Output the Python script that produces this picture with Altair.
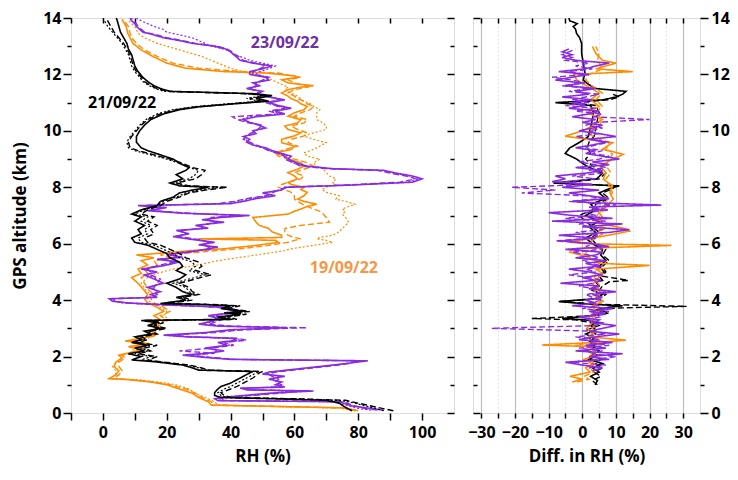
import altair as alt
import pandas as pd

# ---------------- left panel: RH profiles (km, %) ----------------
B_ALT = [
    0.08, 0.2, 0.35, 0.45, 0.5, 0.55, 0.62, 0.72, 0.85, 0.94,
    1.06, 1.24, 1.42, 1.47, 1.52, 1.6, 1.7, 1.82, 1.88, 2.0,
    2.1, 2.2, 2.3, 2.4, 2.5, 2.6, 2.7, 2.8, 2.9, 3.0,
    3.1, 3.2, 3.28, 3.32, 3.4, 3.5, 3.55, 3.6, 3.7, 3.8,
    3.85, 3.88, 4.0, 4.1, 4.2, 4.3, 4.45, 4.6, 4.75, 4.9,
    5.05, 5.2, 5.35, 5.5, 5.65, 5.8, 5.95, 6.05, 6.2, 6.35,
    6.5, 6.65, 6.8, 6.95, 7.05, 7.2, 7.35, 7.5, 7.65, 7.8,
    7.9, 8.0, 8.05, 8.15, 8.3, 8.45, 8.6, 8.7, 8.85, 9.0,
    9.15, 9.3, 9.4, 9.6, 9.8, 10.0, 10.2, 10.4, 10.6, 10.75,
    10.85, 10.95, 11.05, 11.15, 11.25, 11.32, 11.4, 11.5, 11.6, 11.75,
    11.9, 12.1, 12.3, 12.5, 12.7, 12.9, 13.1, 13.3, 13.5, 13.7,
    13.9, 14.0,
]
B_SOLID = [
    78, 76, 74, 70, 55, 37, 35, 35, 36, 37,
    40, 43, 46, 47, 30, 28, 25, 16, 9, 12,
    8, 13, 10, 14, 9, 12, 10, 15, 13, 18,
    14, 17, 12, 40, 36, 43, 38, 44, 37, 40,
    30, 18, 26, 23, 28, 25, 23, 20, 24, 26,
    23, 25, 24, 21, 20, 17, 14, 10, 9, 12,
    11, 13, 10, 12, 9, 12, 17, 18, 22, 24,
    28, 33, 24, 21, 25, 23, 26, 27, 24, 22,
    18, 14, 12, 10.5, 10.5, 11.5, 13, 15, 19, 24,
    30, 40, 52, 48, 53, 47, 21, 18, 16, 14,
    12.5, 11, 10, 9.5, 9, 8, 7.5, 6.5, 5.5, 5,
    4.5, 4.2,
]
B_DASH = [
    91, 86, 80, 76, 62, 40, 38, 37, 40, 42,
    44, 47, 49, 50, 33, 31, 27, 18, 14, 17,
    11, 15, 13, 17, 11, 14, 12, 17, 15, 20,
    16, 19, 14, 42, 39, 45, 41, 46, 39, 43,
    33, 20, 28, 25, 30, 28, 27, 24, 29, 34,
    29, 31, 30, 26, 24, 21, 18, 14, 13, 16,
    15, 17, 14, 16, 12, 14, 18, 20, 24, 27,
    32, 39, 27, 23, 29, 31, 32, 28, 25, 21,
    16, 11, 8.5, 8, 9, 10.5, 12, 14, 18, 23,
    29, 40, 50, 46, 52, 45, 20, 17, 15, 13,
    12, 10.5, 9.5, 9, 8.5, 7.5, 6.5, 5, 3.5, 2.5,
    1.5, 1,
]
B_DOT = [
    88, 84, 79, 74, 60, 39, 37, 36, 38, 40,
    42, 45, 48, 49, 32, 30, 26, 17, 12, 15,
    10, 14, 12, 15, 10, 13, 11, 16, 14, 19,
    15, 18, 13, 41, 38, 44, 40, 45, 38, 42,
    32, 19, 27, 24, 29, 27, 26, 22, 27, 32,
    27, 29, 28, 24, 22, 19, 16, 12, 11, 14,
    13, 15, 12, 14, 10, 13, 17, 19, 23, 26,
    30, 37, 26, 22, 27, 29, 30, 27, 24, 20,
    15, 10, 8, 7.5, 8.5, 10, 11.5, 13.5, 17, 22,
    28, 38, 49, 45, 51, 44, 19, 16.5, 14.5, 12.5,
    11.5, 10, 9, 8.5, 8, 7, 6, 4.5, 3, 1.5,
    0.5, 0,
]

O_ALT = [
    0.08, 0.18, 0.28, 0.4, 0.55, 0.7, 0.85, 1.0, 1.1, 1.18,
    1.22, 1.35, 1.5, 1.65, 1.8, 1.95, 2.05, 2.15, 2.25, 2.35,
    2.45, 2.55, 2.65, 2.75, 2.85, 3.0, 3.15, 3.3, 3.45, 3.6,
    3.75, 3.9, 4.05, 4.2, 4.4, 4.6, 4.8, 4.95, 5.1, 5.25,
    5.4, 5.5, 5.6, 5.7, 5.76, 5.82, 5.94, 6.05, 6.12, 6.17,
    6.22, 6.3, 6.42, 6.54, 6.65, 6.76, 6.93, 7.05, 7.15, 7.23,
    7.32, 7.4, 7.5, 7.58, 7.7, 7.82, 7.92, 8.0, 8.1, 8.17,
    8.3, 8.4, 8.52, 8.64, 8.75, 8.87, 9.0, 9.1, 9.22, 9.34,
    9.46, 9.58, 9.7, 9.82, 9.93, 10.05, 10.17, 10.28, 10.4, 10.52,
    10.64, 10.75, 10.87, 10.96, 11.05, 11.14, 11.23, 11.34, 11.46, 11.55,
    11.6, 11.7, 11.81, 11.9, 11.95, 12.05, 12.1, 12.22, 12.4, 12.64,
    12.87, 13.1, 13.3, 13.46, 13.7, 13.85, 13.95,
]
O_SOLID = [
    80, 76, 34, 33, 30, 28, 24, 20, 15, 8,
    2, 4, 5, 3.5, 4, 6, 5, 9, 12, 8,
    14, 7, 12, 16, 14, 17, 15, 18, 16, 19,
    17, 14, 13, 14, 12.5, 11, 9, 12, 11, 14,
    12, 16, 10.5, 22, 28, 38, 48, 55, 54, 30,
    56, 56, 53, 52, 49, 48, 47, 58, 60, 62,
    64, 67, 63, 61, 63, 64, 62, 63, 59, 58,
    61, 60, 58, 61, 63, 62, 58, 57, 54, 59,
    60, 56, 56, 60, 62, 58, 57, 61, 62, 58,
    60, 63, 64, 62, 61, 59, 58, 56, 58, 62,
    66, 58, 56, 61, 60, 51, 38, 26, 20, 15.6,
    12, 9.4, 8.5, 7.8, 7.3, 6.5, 6,
]
O_DASH = [
    79, 75, 35, 34, 31, 29, 26, 21, 16, 9,
    3, 5, 6, 5, 5, 7, 6, 11, 13, 10,
    15, 9, 13, 17, 16, 19, 17, 20, 18, 21,
    19, 16, 15, 16, 14, 13, 12, 14, 13, 17,
    16, 22, 18, 30, 36, 43, 52, 58, 60, 62,
    60, 58, 57, 57, 62, 71, 70, 69, 68, 66,
    64, 62.5, 61, 60, 60, 59, 57, 55, 56, 58,
    62, 63, 60, 63, 66, 64, 60, 55, 54, 57,
    61, 58, 59, 63, 64, 61, 59, 63, 64, 60,
    62, 65, 66, 64, 63, 61, 60, 58, 60, 64,
    63, 60, 58, 62, 59, 55, 44, 30, 22, 17,
    13, 10.5, 9, 8.5, 8, 7, 6.5,
]
O_DOT = [
    78, 74, 36, 35, 32, 29, 27, 23, 17, 11,
    2, 4, 4, 3, 4.5, 6, 5, 9, 10, 8,
    12, 10, 14, 16, 15, 18, 17, 21, 19, 20,
    18, 15, 14, 15, 13, 12, 14, 17, 22, 30,
    36, 42, 48, 54, 57, 59, 66, 72, 70, 67,
    68, 72, 74, 75, 76, 77, 76, 75, 76, 75,
    77, 79, 76, 73, 74, 70, 68.6, 70, 73, 72,
    73, 71, 70, 69, 67, 66, 68, 64, 63, 66,
    68, 70, 66, 63, 66, 70, 70, 69, 67, 67,
    67, 68, 66, 65, 63, 62, 61, 59, 57, 58,
    57, 55, 53, 51, 48, 46, 44, 40, 36, 31,
    24, 17, 13, 11, 10, 8.5, 8,
]

P_ALT = [
    0.1, 0.16, 0.25, 0.4, 0.44, 0.5, 0.55, 0.6, 0.7, 0.78,
    0.82, 0.88, 0.92, 1.0, 1.1, 1.2, 1.3, 1.38, 1.45, 1.55,
    1.65, 1.75, 1.85, 1.9, 1.97, 2.05, 2.12, 2.2, 2.3, 2.4,
    2.5, 2.58, 2.65, 2.7, 2.76, 2.85, 2.95, 3.02, 3.08, 3.15,
    3.25, 3.35, 3.45, 3.55, 3.65, 3.75, 3.83, 3.9, 3.96, 4.05,
    4.1, 4.2, 4.3, 4.45, 4.6, 4.75, 4.89, 5.0, 5.1, 5.22,
    5.35, 5.45, 5.52, 5.62, 5.7, 5.8, 5.88, 5.96, 6.05, 6.15,
    6.25, 6.35, 6.47, 6.55, 6.65, 6.76, 6.85, 6.93, 7.0, 7.08,
    7.17, 7.28, 7.35, 7.42, 7.5, 7.6, 7.7, 7.8, 7.9, 8.0,
    8.08, 8.18, 8.3, 8.4, 8.5, 8.6, 8.66, 8.75, 8.85, 9.0,
    9.1, 9.2, 9.3, 9.4, 9.5, 9.6, 9.7, 9.8, 9.9, 10.0,
    10.1, 10.2, 10.3, 10.4, 10.5, 10.6, 10.7, 10.8, 10.9, 11.0,
    11.1, 11.2, 11.3, 11.4, 11.5, 11.6, 11.7, 11.8, 11.9, 12.0,
    12.1, 12.2, 12.3, 12.4, 12.5, 12.6, 12.7, 12.8, 12.9, 13.0,
    13.1, 13.2, 13.3, 13.4, 13.5, 13.6, 13.7, 13.8, 13.9, 14.0,
]
P_SOLID = [
    88, 84, 78, 74, 36, 35, 37, 42, 52, 66,
    45, 43, 57, 54, 56, 52, 57, 50, 52, 60,
    68, 76, 83, 40, 32, 25, 33, 38, 32, 39,
    36, 42, 40, 26, 19, 32, 40, 57, 36, 30,
    34, 36, 33, 40, 42, 38, 21, 8, 3, 2,
    17, 15, 18, 14, 19, 16, 13, 17, 12, 19,
    24, 17, 25, 20, 27, 32, 36, 30, 35, 28,
    22, 27, 23, 33, 29, 38, 31, 37, 46, 25,
    14, 20, 11, 40, 44, 48, 54, 50, 56, 57,
    78, 97, 100, 97, 92, 88, 72, 64, 61, 58,
    59, 56, 53, 51, 47, 45, 46, 44, 48, 47,
    51, 49, 46, 44, 48, 57, 54, 59, 55, 52,
    57, 52, 48, 50, 45, 49, 47, 52, 51, 46,
    46, 50, 53, 47, 43, 42, 41, 40, 38.5, 35,
    28, 24, 19, 16, 12.5, 11.5, 10.5, 10, 9, 8.5,
]
P_DASH = [
    86, 82, 79, 75, 37, 36, 38, 44, 55, 62,
    47, 45, 55, 56, 54, 55, 53, 52, 54, 62,
    70, 77, 80, 42, 34, 27, 35, 24, 34, 41,
    38, 45, 42, 28, 21, 35, 44, 64, 40, 33,
    36, 38, 35, 42, 40, 36, 19, 7, 4, 3,
    15, 17, 16, 16, 17, 18, 15, 15, 14, 17,
    22, 19, 23, 22, 25, 34, 33, 32, 33, 30,
    24, 25, 25, 31, 31, 35, 33, 34, 43, 27,
    16, 18, 13, 36, 41, 45, 51, 53, 55, 58,
    76, 93, 98, 95, 90, 86, 70, 62, 60, 57,
    57, 55, 52, 50, 48, 46, 44, 45, 46, 48,
    49, 50, 45, 42, 40.6, 55, 52, 57, 54, 51,
    55, 53, 49, 48, 46, 48, 48, 50, 52, 47,
    47, 49, 51, 48, 44, 43, 41.5, 40.5, 39, 36,
    29, 25, 20, 17, 13, 12, 11, 10.5, 9.5, 9,
]
P_DOT = [
    84, 80, 77, 73, 38, 37, 39, 45, 53, 60,
    46, 44, 54, 55, 55, 53, 55, 51, 53, 61,
    69, 76, 81, 41, 33, 26, 34, 36, 33, 40,
    37, 44, 41, 27, 20, 33, 42, 60, 38, 31,
    35, 37, 34, 41, 41, 37, 20, 6, 3.5, 2.5,
    16, 16, 17, 15, 18, 17, 14, 16, 13, 18,
    23, 18, 24, 21, 26, 33, 34, 31, 34, 29,
    23, 26, 24, 32, 30, 36, 32, 35, 44, 26,
    15, 19, 12, 38, 42, 46, 52, 51, 55, 57,
    77, 95, 99, 96, 91, 87, 71, 63, 60, 57,
    58, 55, 52, 50, 47, 45, 45, 44, 47, 47,
    50, 49, 46, 43, 46, 56, 53, 58, 54, 52,
    56, 52, 49, 49, 46, 49, 48, 51, 52, 48,
    49, 52, 54, 50, 46, 44, 41, 40, 38, 34,
    32, 30, 28, 24, 20, 18.8, 16, 14, 12, 10.5,
]

# ---------------- right panel: differences in RH (%) ----------------
DB_ALT = [
    1.0, 1.15, 1.3, 1.45, 1.6, 1.75, 1.9, 2.05, 2.2, 2.35,
    2.5, 2.65, 2.8, 2.95, 3.1, 3.2, 3.3, 3.35, 3.45, 3.55,
    3.65, 3.75, 3.8, 3.85, 3.95, 4.05, 4.2, 4.35, 4.5, 4.65,
    4.7, 4.85, 5.0, 5.2, 5.4, 5.6, 5.8, 6.0, 6.2, 6.4,
    6.6, 6.8, 7.0, 7.2, 7.4, 7.6, 7.8, 7.95, 8.05, 8.15,
    8.3, 8.5, 8.75, 9.0, 9.2, 9.4, 9.6, 9.8, 10.05, 10.4,
    10.65, 10.9, 11.0, 11.1, 11.2, 11.3, 11.4, 11.5, 11.65, 11.8,
    12.05, 12.4, 12.75, 13.1, 13.3, 13.45, 13.6, 13.7, 13.8, 13.9,
    14.0,
]
DB_SOLID = [
    3.8, 4.5, 2.5, 5, 3, 6, 2, 4.5, 1.5, 4,
    2, 3.5, 1, 4, 2.5, 5, 1, -6, 3, 6,
    4, 8, 12, 3, -7, 4, 6, 3, 5, 4,
    6, 5, 6.5, 5, 7, 5.5, 6, 3, 1, 4,
    2, 5, 1, 4, 2.5, 7, 5, 8, 11, -8.6,
    4.3, 6, 1.3, -1.7, -5.1, -3.7, -0.7, 1.8, 2.3, 3,
    3.3, 2.5, -8, 6.2, 10, 12, 13, 4, 1.8, 0.3,
    0.8, 0.3, -0.2, -0.2, -0.8, -1.7, -2, -2.7, -1.5, -3.7,
    -4,
]
DB_DASH_ALT = [
    1.0, 1.15, 1.3, 1.45, 1.6, 1.75, 1.9, 2.05, 2.2, 2.35,
    2.5, 2.65, 2.8, 2.95, 3.1, 3.2, 3.3, 3.35, 3.45, 3.55,
    3.65, 3.72, 3.78, 3.85, 3.95, 4.05, 4.2, 4.35, 4.5, 4.65,
    4.7, 4.85, 5.0, 5.2, 5.4, 5.6, 5.8, 6.0, 6.2, 6.4,
    6.6, 6.8, 7.0, 7.2, 7.4, 7.6, 7.8, 7.95, 8.05, 8.15,
    8.3, 8.5, 8.75, 9.0, 9.2, 9.4, 9.6, 9.8, 10.05, 10.4,
    10.65, 10.9, 11.0, 11.1, 11.2, 11.3,
]
DB_DASH = [
    4.5, 3, 5.5, 3.5, 6, 4, 5.5, 3, 5, 2.5,
    4.5, 2, 4, 1.5, 5, 3, -2, -15, 4, 8,
    5, 10, 31, 6, -7, 5, 7, 5, 6, 8,
    13.7, 6, 7, 6, 8, 6, 7, 4, 2.5, 5,
    3, 1, -1, 3, 4, 8, 6, 9, 10, -6,
    5, 7, 3, 1, 2.5, 1.5, 2, 3.5, 4, 4.5,
    5, 4, -3, 8, 11, 9,
]

DO_ALT = [
    1.1, 1.2, 1.3, 1.45, 1.6, 1.75, 1.9, 2.05, 2.2, 2.35,
    2.41, 2.5, 2.58, 2.7, 2.85, 3.0, 3.2, 3.4, 3.6, 3.8,
    3.96, 4.15, 4.35, 4.55, 4.75, 4.95, 5.1, 5.23, 5.3, 5.4,
    5.55, 5.7, 5.82, 5.94, 6.0, 6.05, 6.2, 6.35, 6.45, 6.53,
    6.65, 6.76, 6.95, 7.1, 7.3, 7.58, 7.82, 8.05, 8.29, 8.52,
    8.76, 9.0, 9.17, 9.35, 9.58, 9.81, 10.0, 10.17, 10.4, 10.64,
    10.87, 11.1, 11.34, 11.58, 11.81, 12.0, 12.1, 12.2, 12.4, 12.5,
    12.75, 12.99,
]
DO_SOLID = [
    -3, 0, -3.7, 2.3, 1, 3, 0.5, 4, 2, 3,
    -12, 4, 13, 2, 3.5, 1.3, 3, 2, 4, 3,
    6.2, 4, 5.5, 3, 4.5, 6, 4, 20, 6, 4,
    1, -3.7, -2.7, 26.5, 2, -3.7, 3, 10, 14, 13,
    8, 4, 6, 5, 7, 9.2, 8.2, 9, 6.2, 7,
    5.2, 9.2, 12.2, 6, 9, -5.1, 0, 3, 6, 1.5,
    5, 2.5, 5, 1.5, -1.7, -2.5, 15, 4, 10, 6,
    4, 3,
]
DO_DASH = [
    -1.5, 2, 0.5, 3.5, 2, 4, 1.5, 2.5, 4, 2,
    -2, 3, 5, 3.5, 2.5, 3, 4, 3, 5, 4,
    4, 5, 3.5, 5, 3.5, 4, 5, 4, 5, 3,
    2, 1, 4, 6, 3, 2, 4, 6, 5, 7,
    5, 6, 4, 5, 6, 7.5, 9, 8, 7, 8.5,
    7, 8, 9, 7, 8, 3, 2, 5, 6, 4,
    6, 4, 6, 3, 1, 2, 4, 6, 5, 4.5,
    5, 4,
]

DP_ALT = [
    1.5, 1.6, 1.7, 1.8, 1.9, 2.0, 2.1, 2.2, 2.3, 2.4,
    2.5, 2.6, 2.7, 2.8, 2.9, 3.0, 3.1, 3.2, 3.3, 3.4,
    3.5, 3.6, 3.7, 3.8, 3.9, 4.0, 4.1, 4.2, 4.3, 4.4,
    4.5, 4.6, 4.7, 4.8, 4.9, 5.0, 5.1, 5.2, 5.3, 5.4,
    5.5, 5.6, 5.7, 5.8, 5.9, 6.0, 6.1, 6.2, 6.3, 6.4,
    6.5, 6.6, 6.7, 6.8, 6.9, 7.0, 7.1, 7.2, 7.3, 7.37,
    7.45, 7.5, 7.6, 7.7, 7.8, 7.9, 8.0, 8.1, 8.2, 8.3,
    8.4, 8.5, 8.6, 8.7, 8.8, 8.9, 9.0, 9.1, 9.2, 9.3,
    9.4, 9.5, 9.6, 9.7, 9.8, 9.9, 10.0, 10.1, 10.2, 10.3,
    10.4, 10.5, 10.6, 10.7, 10.8, 10.9, 11.0, 11.1, 11.2, 11.3,
    11.4, 11.5, 11.6, 11.7, 11.8, 11.9, 12.0, 12.1, 12.2, 12.3,
    12.4, 12.5, 12.6, 12.7, 12.8, 12.9,
]
DP_SOLID = [
    3, 6, 0, -5, 8, 2, 12, -2, 7, 1,
    9, -1, 4, 11, 2, 6, 10, 3, 5, -1,
    7, 2, 9, -3, 4, 1, 6, 3, 10, 2,
    5, -6.5, 4, 0, 6, 2, -4, 5, 1, 7,
    -2, 4, 6, -5, 8, 3, -6, 4, -7, 8,
    14, 0, 12, -9, 9, -3, -10, 6, 2, 23.5,
    4, -3, 8, 2, -4, 5, -6, 3, -9, -5,
    -8, 1, 6, -2, 8, 3, 11, 6, 1, 4,
    -2, 3, 7, 2, 10, 5, -1, 3, 6, 0,
    4, -3, 2, 5, -4, 1, -3, 3, -6, 2,
    -2, 4, -5, 0, -8, -3, 2, -7, 1, 4,
    8, -2, -6, -3, -6, -4,
]
DP_DASH = [
    5, 2, 7, -3, 4, 10, 3, 6, -1, 8,
    2, 5, -2, 7, 3, -27, 4, 6, 1, 5,
    3, 8, 0, 5, 2, 6, 3, 1, 7, 4,
    -1, 3, 6, 2, -4, 4, 1, 6, 3, 0,
    5, 2, -3, 6, 1, 4, -8, 3, 5, -2,
    6, 2, -1, 7, -5, 4, 1, 8, 3, 10,
    2, -4, 6, 1, -18, -8, -21, 2, -5, 4,
    -3, 6, 2, 7, 4, -1, 5, 8, 3, 6,
    1, 4, 8, 3, -2, 5, 2, 6, 1, 4,
    20, 3, 6, -2, 4, -5, 2, -3, 1, 5,
    -4, 2, -6, 1, -3, -9, 1, -4, 3, -2,
    2, -5, -3, -6, -4, -2,
]

DATES = ["19/09/22", "21/09/22", "23/09/22"]
LINE_COLORS = ["#FF8C00", "#000000", "#8A2BE2"]
STYLES = ["solid", "dashed", "dotted"]

LABEL_TEXT = ["21/09/22", "23/09/22", "19/09/22"]
LABEL_X = [6, 57, 75.5]
LABEL_Y = [11.0, 13.1, 5.15]
LABEL_COLORS = ["#000000", "#7030A0", "#F79646"]

FONT = "Open Sans"


def profile_rows(date, alts, series, value_name):
    rows = []
    for style, vals in series:
        for i, (a, v) in enumerate(zip(alts, vals)):
            rows.append({"date": date, "style": style, "i": i, "alt": a, value_name: v})
    return rows


def profile_frame(items, value_name):
    rows = []
    for date, alts, series in items:
        rows += profile_rows(date, alts, series, value_name)
    return pd.DataFrame(rows)


left_df = profile_frame(
    [
        ("19/09/22", O_ALT, [("solid", O_SOLID), ("dashed", O_DASH), ("dotted", O_DOT)]),
        ("21/09/22", B_ALT, [("solid", B_SOLID), ("dashed", B_DASH), ("dotted", B_DOT)]),
        ("23/09/22", P_ALT, [("solid", P_SOLID), ("dashed", P_DASH), ("dotted", P_DOT)]),
    ],
    "rh",
)
right_df = pd.concat(
    [
        profile_frame([("21/09/22", DB_ALT, [("solid", DB_SOLID)])], "diff"),
        profile_frame([("21/09/22", DB_DASH_ALT, [("dashed", DB_DASH)])], "diff"),
        profile_frame([("19/09/22", DO_ALT, [("solid", DO_SOLID), ("dashed", DO_DASH)])], "diff"),
        profile_frame([("23/09/22", DP_ALT, [("solid", DP_SOLID), ("dashed", DP_DASH)])], "diff"),
    ],
    ignore_index=True,
)
labels_df = pd.DataFrame({"text": LABEL_TEXT, "rh": LABEL_X, "alt": LABEL_Y, "color": LABEL_COLORS})

EVEN = "datum.value % 2 === 0"
major_minor = {"condition": {"test": EVEN, "value": 8}, "value": 4}
tick_style = dict(domain=False, tickColor="black", tickWidth=1.5, labelFont=FONT,
                  labelFontWeight="bold", labelFontSize=16, labelColor="black",
                  titleFont=FONT, titleFontWeight="bold", titleFontSize=17, titleColor="black")

ALT_SCALE = alt.Scale(domain=[0, 14], nice=False)
RH_SCALE = alt.Scale(domain=[-10, 110], nice=False)
DIFF_SCALE = alt.Scale(domain=[-32.5, 35], nice=False)

color_enc = alt.Color("date:N", scale=alt.Scale(domain=DATES, range=LINE_COLORS), legend=None)
dash_enc = alt.StrokeDash("style:N", scale=alt.Scale(domain=STYLES, range=[[1, 0], [6, 3], [2, 2]]), legend=None)
width_enc = alt.StrokeWidth("style:N", scale=alt.Scale(domain=STYLES, range=[1.6, 1.2, 1.2]), legend=None)


def lines(df, date, field, xscale, xaxis, yaxis):
    return (
        alt.Chart(df)
        .transform_filter(alt.datum.date == date)
        .mark_line(clip=True)
        .encode(
            x=alt.X(f"{field}:Q", scale=xscale, axis=xaxis),
            y=alt.Y("alt:Q", scale=ALT_SCALE, axis=yaxis),
            color=color_enc,
            strokeDash=dash_enc,
            strokeWidth=width_enc,
            detail="style:N",
            order="i:Q",
        )
    )


def inner_ticks(orient, values, size):
    # ticks drawn inside the frame: axis pulled in by its own tick length
    return alt.Axis(orient=orient, values=values, labels=False, tickSize=size, offset=-size,
                    title=None, grid=False, **tick_style)


# ---- left panel ----
left_x_bottom = alt.Axis(orient="bottom", values=list(range(-10, 101, 10)),
                         labelExpr="datum.value % 20 === 0 ? datum.label : ''", grid=False,
                         tickSize=7, labelPadding=4, title="RH (%)", titlePadding=8, **tick_style)
left_y_left = alt.Axis(orient="left", values=list(range(0, 15)), labelExpr=f"{EVEN} ? datum.label : ''",
                       tickSize=major_minor, labelPadding=2, title="GPS altitude (km)", grid=False,
                       titlePadding=13, **tick_style)

left_text = (
    alt.Chart(labels_df)
    .mark_text(font=FONT, fontWeight="bold", fontSize=16)
    .encode(
        x=alt.X("rh:Q", scale=RH_SCALE, axis=None),
        y=alt.Y("alt:Q", scale=ALT_SCALE, axis=None),
        text="text:N",
        color=alt.Color("color:N", scale=None),
    )
)

left = alt.layer(
    lines(left_df, "19/09/22", "rh", RH_SCALE, left_x_bottom, left_y_left),
    lines(left_df, "23/09/22", "rh", RH_SCALE, inner_ticks("top", list(range(-10, 101, 10)), 5),
          inner_ticks("right", list(range(0, 15, 2)), 7)),
    lines(left_df, "21/09/22", "rh", RH_SCALE, None, inner_ticks("right", list(range(1, 14, 2)), 4)),
    left_text,
).resolve_axis(x="independent", y="independent").properties(width=383, height=395)

# ---- right panel ----
right_x_bottom = alt.Axis(orient="bottom", values=list(range(-30, 31, 5)),
                          labelExpr="datum.value % 10 === 0 ? datum.label : ''",
                          tickSize=5, labelPadding=6, title="Diff. in RH (%)", titlePadding=8,
                          grid=True,
                          gridColor={"condition": {"test": "datum.value % 10 === 0", "value": "#bdbdbd"},
                                     "value": "#e4e4e4"},
                          gridDash={"condition": {"test": "datum.value % 10 === 0", "value": [1, 0]},
                                    "value": [2, 2]},
                          gridWidth=1.2, **tick_style)
right_y_right = alt.Axis(orient="right", values=list(range(0, 15)), labelExpr=f"{EVEN} ? datum.label : ''",
                         tickSize=major_minor, labelPadding=3, title=None, grid=False, **tick_style)

right = alt.layer(
    lines(right_df, "21/09/22", "diff", DIFF_SCALE, right_x_bottom, right_y_right),
    lines(right_df, "19/09/22", "diff", DIFF_SCALE, inner_ticks("top", list(range(-30, 31, 5)), 5),
          inner_ticks("left", list(range(0, 15, 2)), 7)),
    lines(right_df, "23/09/22", "diff", DIFF_SCALE, None, inner_ticks("left", list(range(1, 14, 2)), 4)),
).resolve_axis(x="independent", y="independent").properties(width=227, height=395)

chart = (
    alt.hconcat(left, right, spacing=11)
    .properties(padding={"top": 1, "left": 3, "right": 0, "bottom": 0})
    .configure_view(stroke="#111111", strokeWidth=2)
    .configure(background="white")
)

chart.save("out.html", embed_options={"renderer": "svg", "actions": False})
